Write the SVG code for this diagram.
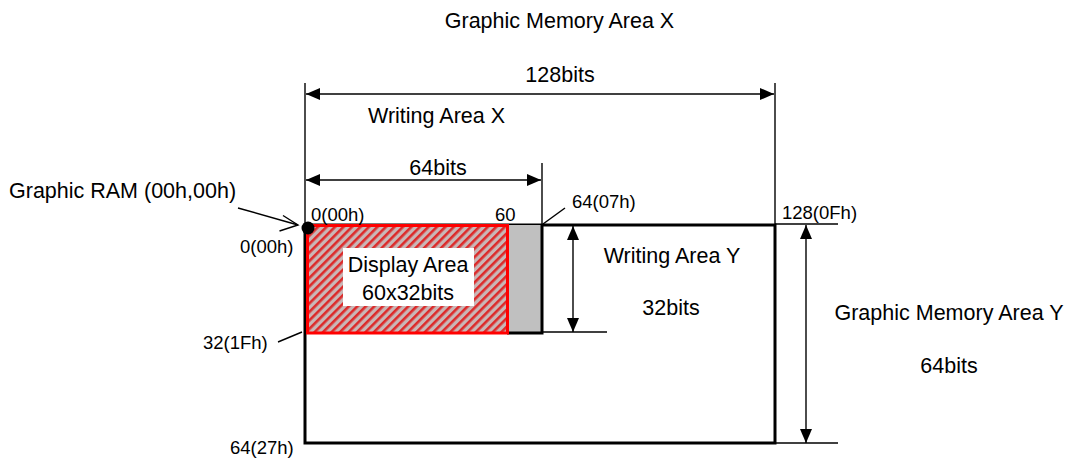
<svg xmlns="http://www.w3.org/2000/svg" width="1076" height="459" viewBox="0 0 1076 459">
  <style>
    text { font-family: "Liberation Sans", Arial, sans-serif; fill: #000; }
    .big { font-size: 21.5px; }
    .small { font-size: 18.5px; }
    .mid { text-anchor: middle; }
    .thin { stroke: #000; stroke-width: 1.4; fill: none; }
    .thick { stroke: #000; stroke-width: 3; fill: none; }
  </style>
  <defs>
    <pattern id="hatch" width="6" height="6" patternUnits="userSpaceOnUse" patternTransform="rotate(45)">
      <rect width="6" height="6" fill="#c9b7b7"/>
      <rect x="0" y="0" width="2.6" height="6" fill="#dc2a2a"/>
    </pattern>
    <marker id="ah" viewBox="0 0 14 12" refX="14" refY="6" markerWidth="14" markerHeight="12" markerUnits="userSpaceOnUse" orient="auto-start-reverse">
      <path d="M0,0 L14,6 L0,12 Z" fill="#000"/>
    </marker>
  </defs>

  <g id="graphic-memory-area">
    <rect x="305" y="225" width="470" height="218" class="thick"/>
  </g>

  <g id="writing-area">
    <rect x="507.5" y="225" width="34.5" height="108" fill="#c0c0c0"/>
    <path d="M507 333 H542 V225" class="thick"/>
  </g>

  <g id="display-area">
    <rect x="307.5" y="225.5" width="200" height="107.5" fill="url(#hatch)" stroke="#ff0000" stroke-width="3"/>
    <rect x="343" y="248" width="131" height="58" fill="#fff"/>
    <text x="408" y="272" class="big mid">Display Area</text>
    <text x="408" y="300" class="big mid">60x32bits</text>
  </g>

  <g id="origin-dot">
    <circle cx="308" cy="228" r="6.5" fill="#000"/>
  </g>

  <g id="connectors">
    <!-- extension lines -->
    <line x1="305" y1="83" x2="305" y2="225" class="thin"/>
    <line x1="775" y1="83" x2="775" y2="225" class="thin"/>
    <line x1="542" y1="163" x2="542" y2="225" class="thin"/>
    <line x1="542" y1="332" x2="607" y2="332" class="thin"/>
    <line x1="775" y1="224" x2="838" y2="224" class="thin"/>
    <line x1="775" y1="443" x2="838" y2="443" class="thin"/>
    <!-- dimension arrows -->
    <line x1="306" y1="94" x2="774" y2="94" class="thin" marker-start="url(#ah)" marker-end="url(#ah)"/>
    <line x1="306" y1="180" x2="541" y2="180" class="thin" marker-start="url(#ah)" marker-end="url(#ah)"/>
    <line x1="573" y1="226" x2="573" y2="332" class="thin" marker-start="url(#ah)" marker-end="url(#ah)"/>
    <line x1="806" y1="225" x2="806" y2="443" class="thin" marker-start="url(#ah)" marker-end="url(#ah)"/>
    <!-- leader lines -->
    <line x1="238" y1="208" x2="298" y2="225" class="thin"/>
    <path d="M283 215.5 L298 225 L279.5 231" class="thin"/>
    <line x1="543" y1="224" x2="565" y2="208" class="thin"/>
    <line x1="278" y1="342" x2="302" y2="332" class="thin"/>
  </g>

  <g id="labels">
    <text x="559.5" y="28" class="big mid">Graphic Memory Area X</text>
    <text x="560" y="82" class="big mid">128bits</text>
    <text x="368" y="123" class="big">Writing Area X</text>
    <text x="438" y="175" class="big mid">64bits</text>
    <text x="9" y="198" class="big">Graphic RAM (00h,00h)</text>
    <text x="311" y="221" class="small">0(00h)</text>
    <text x="495" y="221" class="small">60</text>
    <text x="572" y="208" class="small">64(07h)</text>
    <text x="782" y="219" class="small">128(0Fh)</text>
    <text x="240" y="253" class="small">0(00h)</text>
    <text x="672" y="263" class="big mid">Writing Area Y</text>
    <text x="671" y="315" class="big mid">32bits</text>
    <text x="949" y="320" class="big mid">Graphic Memory Area Y</text>
    <text x="949" y="373" class="big mid">64bits</text>
    <text x="203" y="349" class="small">32(1Fh)</text>
    <text x="230" y="454" class="small">64(27h)</text>
  </g>
</svg>
